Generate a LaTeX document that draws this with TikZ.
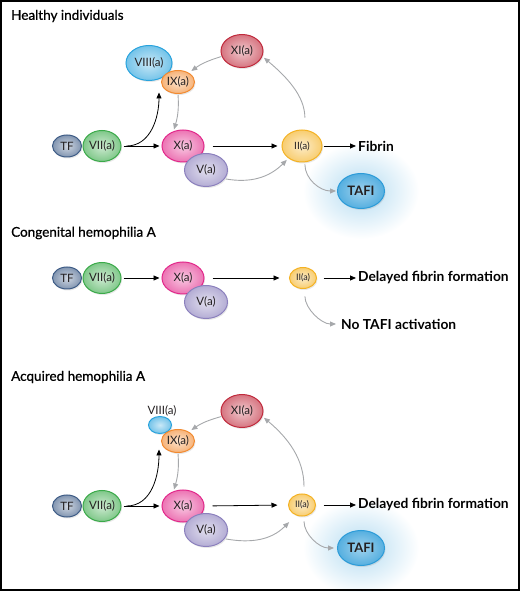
\documentclass[tikz,border=0pt]{standalone}
\usepackage{fontspec}
\setmainfont{Lato}
\newfontfamily\titlefont{Lato}[FakeBold=0.8]
\usetikzlibrary{shapes.geometric,arrows.meta,shadows,backgrounds}

\definecolor{tfcol}{HTML}{3E5C86}
\definecolor{viicol}{HTML}{3BAA4A}
\definecolor{xcol}{HTML}{E2288A}
\definecolor{vcol}{HTML}{8B80BD}
\definecolor{viiicol}{HTML}{29A3DD}
\definecolor{ixcol}{HTML}{F28A30}
\definecolor{xicol}{HTML}{C02A3C}
\definecolor{iicol}{HTML}{F4B223}
\definecolor{taficol}{HTML}{2B9BD8}
\definecolor{arrowgray}{HTML}{A6A8AB}
\definecolor{inkcol}{HTML}{231F20}

\tikzset{
  factor/.style={ellipse, draw=#1, line width=1pt, inner sep=0pt,
    inner color=#1!25, outer color=#1!65, text=inkcol,
    drop shadow={opacity=0.18, shadow xshift=1pt, shadow yshift=-1.5pt},
    font=\fontsize{11.5}{12}\selectfont},
  dims/.style 2 args={minimum width=#1pt, minimum height=#2pt},
  tafibox/.style={factor=taficol, inner color=taficol!45, outer color=taficol!80,
    dims={47}{35}, font=\bfseries\fontsize{13}{14}\selectfont},
  blk/.style={-{Triangle[length=6pt,width=5pt]}, line width=0.8pt, draw=black},
  gry/.style={-{Triangle[length=6pt,width=5pt]}, line width=0.9pt, draw=arrowgray},
  paneltitle/.style={anchor=west, inner sep=0pt, font=\titlefont\fontsize{13.5}{15}\selectfont},
  result/.style={anchor=west, inner sep=0pt, font=\bfseries\fontsize{13.8}{15}\selectfont},
}

\begin{document}
\begin{tikzpicture}[x=1pt,y=1pt]
\useasboundingbox (0,0) rectangle (520,592);
\draw[line width=2pt] (1,2) rectangle (518.5,591);

% healthy individuals
\node[paneltitle] (h-title) at (11,576) {Healthy individuals};
\node[factor=tfcol, dims={29}{22}] (h-tf) at (67,446) {TF};
\node[factor=viicol, dims={38}{31}] (h-vii) at (102,446) {VII(a)};
\node[factor=xcol, dims={42}{32}] (h-x) at (183,446) {X(a)};
\node[factor=vcol, dims={43}{33}] (h-v) at (206,422) {V(a)};
\node[factor=viiicol, dims={46}{35}] (h-viii) at (149,529) {VIII(a)};
\node[factor=ixcol, dims={33}{23}] (h-ix) at (178,510) {IX(a)};
\node[factor=xicol, dims={42}{33}] (h-xi) at (242,541) {XI(a)};
\node[factor=iicol, dims={40}{32}, font=\fontsize{10}{11}\selectfont] (h-ii) at (302,446) {II(a)};
\node[tafibox] (h-tafi) at (361,401) {TAFI};
\node[result] (h-fib) at (358,446) {Fibrin};
\draw[blk, shorten <=2pt, shorten >=2pt] (h-vii.east) -- (h-x.west);
\draw[blk] ([xshift=5pt]h-vii.east) to[out=0,in=-90] ([xshift=-7pt,yshift=-2pt]h-ix.south west);
\draw[blk, shorten <=8pt, shorten >=4pt] (h-x.east) -- (h-ii.west);
\draw[blk, shorten <=1pt, shorten >=2pt] (h-ii.east) -- (h-fib.west);
\draw[gry, shorten <=1pt] (h-ix.south) to[bend left=10] ([xshift=-9pt]h-x.north);
\draw[gry, shorten >=3pt] (h-xi.195) to[bend right=10] (h-ix.40);
\draw[gry, shorten <=12pt, shorten >=2pt] (h-ii.80) to[out=90,in=-40] (h-xi.-15);
\draw[gry, shorten <=1pt] (h-v.-25) to[out=-10,in=-135] ([xshift=-1pt,yshift=-2pt]h-ii.-140);
\draw[gry, shorten <=2pt, shorten >=1pt] (h-ii.-80) to[out=-90,in=180] (h-tafi.west);

% congenital hemophilia A
\node[paneltitle] (c-title) at (11,359) {Congenital hemophilia A};
\node[factor=tfcol, dims={29}{22}] (c-tf) at (67,314) {TF};
\node[factor=viicol, dims={38}{31}] (c-vii) at (102,314) {VII(a)};
\node[factor=xcol, dims={42}{32}] (c-x) at (183,314) {X(a)};
\node[factor=vcol, dims={43}{33}] (c-v) at (206,290) {V(a)};
\node[factor=iicol, dims={27}{21}, font=\fontsize{9}{10}\selectfont] (c-ii) at (303,314) {II(a)};
\node[result] (c-fib) at (358,314) {Delayed fibrin formation};
\node[result] (c-tafi) at (341,268) {No TAFI activation};
\draw[blk, shorten <=2pt, shorten >=2pt] (c-vii.east) -- (c-x.west);
\draw[blk, shorten <=8pt, shorten >=9.5pt] (c-x.east) -- (c-ii.west);
\draw[blk, shorten <=6.5pt, shorten >=2pt] (c-ii.east) -- (c-fib.west);
\draw[gry, shorten <=7.5pt, shorten >=5pt] (c-ii.-80) to[out=-90,in=180] (c-tafi.west);

% acquired hemophilia A
\node[paneltitle] (a-title) at (11,215) {Acquired hemophilia A};
\node[factor=tfcol, dims={29}{22}] (a-tf) at (67,86) {TF};
\node[factor=viicol, dims={38}{31}] (a-vii) at (102,86) {VII(a)};
\node[factor=xcol, dims={42}{32}] (a-x) at (183,86) {X(a)};
\node[factor=vcol, dims={43}{33}] (a-v) at (206,62) {V(a)};
\node[factor=viiicol, dims={23}{17}] (a-viii) at (160,167) {};
\node[text=inkcol, font=\fontsize{11.5}{12}\selectfont] (a-viii-lbl) at (162,181) {VIII(a)};
\node[factor=ixcol, dims={33}{23}] (a-ix) at (178,151) {IX(a)};
\node[factor=xicol, dims={42}{33}] (a-xi) at (242,181) {XI(a)};
\node[factor=iicol, dims={27}{22}, font=\fontsize{9}{10}\selectfont] (a-ii) at (302,87) {II(a)};
\node[tafibox] (a-tafi) at (361,44) {TAFI};
\node[result] (a-fib) at (358,87) {Delayed fibrin formation};
\draw[blk, shorten <=2pt, shorten >=2pt] (a-vii.east) -- (a-x.west);
\draw[blk] ([xshift=5pt]a-vii.east) to[out=0,in=-90] ([xshift=-7pt]a-ix.south west);
\draw[blk, shorten <=8pt, shorten >=10.5pt] (a-x.east) -- (a-ii.west);
\draw[blk, shorten <=7.5pt, shorten >=2pt] (a-ii.east) -- (a-fib.west);
\draw[gry, shorten <=1pt] (a-ix.south) to[bend left=10] ([xshift=-9pt]a-x.north);
\draw[gry, shorten >=3pt] (a-xi.195) to[bend right=10] (a-ix.40);
\draw[gry, shorten <=7pt, shorten >=2pt] (a-ii.80) to[out=90,in=-40] (a-xi.-15);
\draw[gry, shorten <=1pt] (a-v.-25) to[out=-10,in=-135] ([xshift=-3pt,yshift=-9pt]a-ii.south west);
\draw[gry, shorten <=5pt, shorten >=3pt] (a-ii.-80) to[out=-90,in=180] (a-tafi.west);

% glow round TAFI
\begin{scope}[on background layer]
\shade[inner color=taficol!35, outer color=white] (h-tafi) ellipse (58 and 48);
\shade[inner color=taficol!35, outer color=white] (a-tafi) ellipse (58 and 48);
\end{scope}
\end{tikzpicture}
\end{document}
